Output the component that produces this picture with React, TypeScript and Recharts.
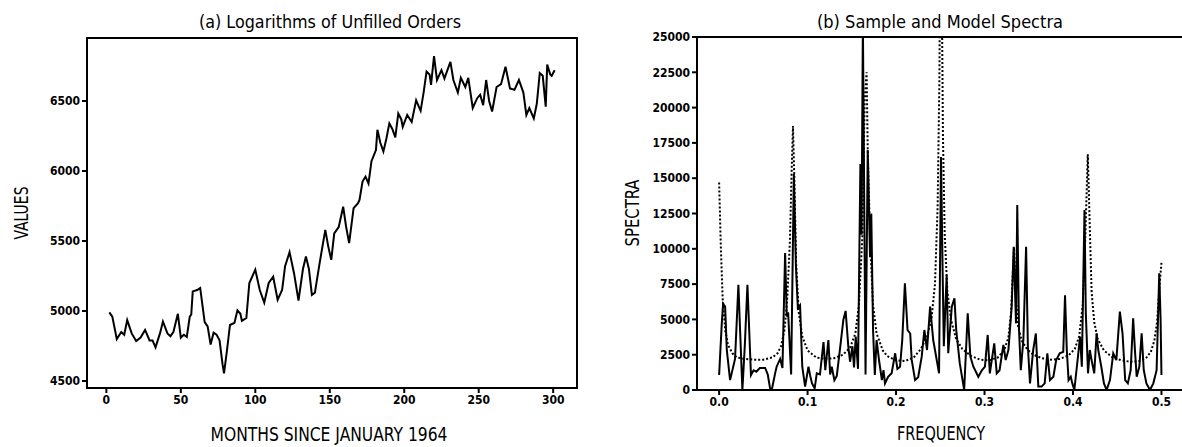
import { Line, LineChart, XAxis, YAxis } from "recharts";

// (a) log unfilled orders
const months = [
  2, 4, 7, 10, 12, 14, 17, 20, 23, 26, 29, 31, 33, 36, 38, 41, 43, 45, 48, 50,
  52, 54, 56, 57, 58, 61, 63, 66, 68, 70, 72, 74, 76, 78, 79, 81, 83, 86, 88, 90,
  91, 94, 96, 100, 103, 106, 109, 112, 115, 118, 120, 123, 126, 129, 132, 134,
  136, 138, 140, 143, 147, 149, 151, 153, 156, 159, 161, 163, 166, 169, 170, 172,
  174, 176, 178, 181, 182, 184, 186, 188, 190, 192, 194, 196, 198, 199, 202, 205,
  208, 211, 213, 215, 217, 218, 220, 222, 225, 227, 229, 231, 233, 236, 238, 241,
  243, 246, 249, 251, 253, 255, 257, 259, 262, 265, 268, 271, 274, 277, 280, 282,
  284, 287, 289, 291, 293, 295, 296, 298, 299, 301,
];
const unfilled = [
  4990, 4960, 4800, 4850, 4830, 4935, 4840, 4785, 4810, 4865, 4790, 4790, 4740,
  4840, 4925, 4840, 4820, 4850, 4980, 4810, 4830, 4815, 4960, 4975, 5140, 5150,
  5165, 4920, 4890, 4760, 4845, 4830, 4790, 4620, 4555, 4720, 4900, 4915, 5005,
  4980, 4930, 4950, 5200, 5295, 5150, 5060, 5200, 5245, 5080, 5150, 5320, 5420,
  5270, 5075, 5300, 5390, 5300, 5115, 5130, 5330, 5580, 5460, 5365, 5555, 5600,
  5745, 5600, 5485, 5735, 5770, 5795, 5925, 5960, 5910, 6070, 6150, 6295, 6200,
  6140, 6230, 6340, 6300, 6240, 6410, 6370, 6315, 6400, 6350, 6505, 6430, 6560,
  6710, 6690, 6615, 6820, 6650, 6720, 6660, 6720, 6780, 6650, 6560, 6665, 6600,
  6665, 6450, 6520, 6545, 6470, 6650, 6500, 6425, 6600, 6620, 6745, 6590, 6580,
  6650, 6560, 6400, 6450, 6375, 6480, 6700, 6680, 6460, 6760, 6690, 6680, 6720,
];
const monthTicks = [0, 50, 100, 150, 200, 250, 300];
const valueTicks = [4500, 5000, 5500, 6000, 6500];

// (b) sample spectrum
const sampleFreq = [
  0, 0.003, 0.0045, 0.0068, 0.0087, 0.0124, 0.018, 0.0218, 0.0237, 0.0263, 0.029,
  0.032, 0.034, 0.036, 0.039, 0.042, 0.046, 0.052, 0.055, 0.0576, 0.0595, 0.0633,
  0.065, 0.069, 0.0716, 0.0746, 0.0765, 0.078, 0.0814, 0.0845, 0.0868, 0.089,
  0.0915, 0.094, 0.0972, 0.101, 0.103, 0.105, 0.108, 0.1104, 0.114, 0.118, 0.12,
  0.1235, 0.1255, 0.1273, 0.1303, 0.133, 0.137, 0.1405, 0.143, 0.146, 0.148,
  0.1507, 0.1525, 0.1544, 0.157, 0.1597, 0.161, 0.1625, 0.1655, 0.168, 0.1706,
  0.172, 0.174, 0.176, 0.178, 0.181, 0.184, 0.1858, 0.1875, 0.191, 0.195, 0.199,
  0.2015, 0.2045, 0.207, 0.21, 0.213, 0.216, 0.2177, 0.2215, 0.225, 0.229, 0.232,
  0.235, 0.2385, 0.242, 0.244, 0.2486, 0.2508, 0.2525, 0.254, 0.2572, 0.259, 0.263,
  0.266, 0.268, 0.272, 0.277, 0.281, 0.284, 0.2874, 0.293, 0.297, 0.3005, 0.3036,
  0.306, 0.311, 0.3138, 0.317, 0.3213, 0.3239, 0.327, 0.3307, 0.333, 0.3356, 0.337,
  0.339, 0.341, 0.3439, 0.347, 0.349, 0.3514, 0.355, 0.358, 0.3608, 0.3645, 0.368,
  0.371, 0.374, 0.3778, 0.381, 0.385, 0.389, 0.391, 0.393, 0.395, 0.3975, 0.3992,
  0.4015, 0.405, 0.408, 0.41, 0.413, 0.4145, 0.417, 0.419, 0.421, 0.424, 0.4267,
  0.4286, 0.432, 0.435, 0.438, 0.4418, 0.4455, 0.449, 0.453, 0.456, 0.459, 0.462,
  0.4652, 0.468, 0.47, 0.472, 0.475, 0.4776, 0.48, 0.483, 0.487, 0.4908, 0.4945,
  0.4975, 0.499, 0.5,
];
const sampleSpec = [
  1060, 4700, 6100, 5900, 2830, 700, 2200, 7450, 4250, 0, 3100, 7450, 4250, 1060,
  1400, 1300, 1560, 1560, 1100, 120, 0, 1180, 1650, 2200, 1560, 9700, 5200, 5500,
  1100, 15300, 8800, 5800, 6000, 1650, 240, 1650, 1000, 470, 120, 1180, 1100, 3400,
  1400, 3540, 1100, 1650, 700, 1000, 3100, 5000, 5600, 3100, 2000, 3100, 1600, 3780,
  1500, 16000, 11000, 26000, 1100, 17000, 9400, 12500, 4250, 1060, 3540, 2000, 700,
  1400, 470, 940, 1180, 2600, 1500, 1650, 3540, 7550, 4250, 4000, 2130, 700, 900,
  2360, 4250, 2830, 5900, 3540, 2830, 1180, 16500, 9000, 3100, 8150, 2600, 5900,
  6500, 4250, 1900, 0, 5430, 2360, 1650, 940, 1400, 1650, 3900, 1180, 3300, 1180,
  1400, 3200, 2120, 2830, 5900, 10150, 4720, 13100, 4250, 1400, 3540, 10150, 3100,
  470, 2830, 4000, 240, 240, 470, 2600, 700, 940, 2120, 2600, 2700, 6700, 2830, 700,
  940, 470, 0, 2000, 3780, 1650, 12740, 5430, 1180, 2830, 2120, 1180, 4010, 2830,
  1650, 470, 0, 700, 2600, 2120, 5550, 4000, 700, 470, 1400, 5070, 2830, 940, 1650,
  4010, 1400, 470, 0, 470, 1400, 8260, 5000, 1060,
];

// (b) model spectrum
const modelFreq = [
  0, 0.002, 0.004, 0.007, 0.01, 0.015, 0.02, 0.03, 0.04, 0.05, 0.06, 0.066, 0.07,
  0.074, 0.077, 0.08, 0.082, 0.0835, 0.085, 0.087, 0.09, 0.094, 0.1, 0.11, 0.12,
  0.13, 0.14, 0.148, 0.154, 0.158, 0.162, 0.1645, 0.1667, 0.168, 0.171, 0.174,
  0.178, 0.185, 0.19, 0.2, 0.21, 0.22, 0.228, 0.235, 0.24, 0.244, 0.247, 0.249,
  0.25, 0.2515, 0.253, 0.255, 0.258, 0.262, 0.268, 0.275, 0.285, 0.295, 0.305,
  0.315, 0.322, 0.327, 0.33, 0.3333, 0.3355, 0.338, 0.342, 0.348, 0.355, 0.365,
  0.375, 0.385, 0.395, 0.402, 0.407, 0.411, 0.414, 0.4167, 0.419, 0.421, 0.424,
  0.428, 0.435, 0.445, 0.455, 0.465, 0.475, 0.483, 0.488, 0.492, 0.495, 0.498, 0.5,
];
const modelSpec = [
  14700, 10000, 6500, 4200, 3200, 2600, 2300, 2200, 2150, 2150, 2300, 2600, 3100,
  4300, 6500, 10500, 15500, 18700, 15000, 9000, 5500, 3800, 2800, 2300, 2200, 2250,
  2500, 3000, 4000, 6000, 11000, 20500, 22500, 17000, 10000, 6000, 4000, 2800, 2400,
  2100, 2050, 2300, 2900, 3800, 5000, 7500, 13000, 22000, 32000, 30000, 18000, 11000,
  7000, 5000, 3600, 2900, 2400, 2150, 2100, 2300, 2800, 3700, 5500, 10100, 6500,
  4500, 3500, 2900, 2500, 2250, 2150, 2200, 2450, 2900, 3800, 6000, 11000, 16700,
  11500, 7000, 4800, 3600, 2800, 2300, 2100, 2000, 2050, 2300, 2700, 3500, 4800,
  7500, 9000,
];
const freqTicks = [0, 0.1, 0.2, 0.3, 0.4, 0.5];
const spectraTicks = [
  0, 2500, 5000, 7500, 10000, 12500, 15000, 17500, 20000, 22500, 25000,
];

const ordersData = months.map((m, i) => ({ m, v: unfilled[i] }));
const sampleData = sampleFreq.map((f, i) => ({ f, s: sampleSpec[i] }));
const modelData = modelFreq.map((f, i) => ({ f, s: modelSpec[i] }));

const FONT = "'DejaVu Sans Condensed', 'DejaVu Sans', sans-serif";
const tickStyle = { fill: "#000", fontSize: 12, fontWeight: 700, fontFamily: FONT };
const textStyle = { fontFamily: FONT, fill: "#000" };

export default function App() {
  return (
    <div style={{ position: "relative", width: 1182, height: 447, overflow: "hidden", background: "#fff" }}>
      <style>{"body{margin:0;overflow:hidden}"}</style>

      <div style={{ position: "absolute", left: 0, top: 0 }}>
        <LineChart width={600} height={447} data={ordersData} margin={{ top: 38, right: 23, left: 27, bottom: 29 }}>
          <XAxis
            dataKey="m"
            type="number"
            domain={[-13, 316]}
            ticks={monthTicks}
            height={30}
            stroke="#000"
            strokeWidth={2}
            tickSize={5}
            tick={tickStyle}
          />
          <YAxis
            type="number"
            domain={[4450, 6950]}
            ticks={valueTicks}
            width={60}
            stroke="#000"
            strokeWidth={2}
            tickSize={5}
            tickMargin={2}
            tick={tickStyle}
          />
          <Line type="linear" dataKey="v" stroke="#000" strokeWidth={2} dot={false} isAnimationActive={false} />
        </LineChart>
      </div>

      <div style={{ position: "absolute", left: 600, top: 0 }}>
        <LineChart width={600} height={447} margin={{ top: 37, right: 12, left: 37, bottom: 27 }}>
          <XAxis
            dataKey="f"
            type="number"
            domain={[-0.025, 0.53]}
            ticks={freqTicks}
            tickFormatter={(t: number) => t.toFixed(1)}
            height={30}
            stroke="#000"
            strokeWidth={2}
            tickSize={5}
            tick={tickStyle}
            allowDataOverflow
          />
          <YAxis
            type="number"
            domain={[0, 25000]}
            ticks={spectraTicks}
            width={60}
            stroke="#000"
            strokeWidth={2}
            tickSize={5}
            tickMargin={2}
            tick={tickStyle}
            allowDataOverflow
          />
          <Line data={modelData} type="linear" dataKey="s" stroke="#000" strokeWidth={2} strokeDasharray="2 2" dot={false} isAnimationActive={false} />
          <Line data={sampleData} type="linear" dataKey="s" stroke="#000" strokeWidth={2} dot={false} isAnimationActive={false} />
        </LineChart>
      </div>

      <svg width={1182} height={447} style={{ position: "absolute", left: 0, top: 0, pointerEvents: "none" }}>
        <rect x={87} y={38} width={490} height={350} fill="none" stroke="#000" strokeWidth={2} />
        <path d="M1190 37 H697 V390 H1190" fill="none" stroke="#000" strokeWidth={2} />
        <text x={330} y={28} textAnchor="middle" fontSize={17} textLength={262} lengthAdjust="spacingAndGlyphs" style={textStyle}>
          (a) Logarithms of Unfilled Orders
        </text>
        <text x={940} y={28} textAnchor="middle" fontSize={17} textLength={246} lengthAdjust="spacingAndGlyphs" style={textStyle}>
          (b) Sample and Model Spectra
        </text>
        <text x={329} y={441} textAnchor="middle" fontSize={19} textLength={237} lengthAdjust="spacingAndGlyphs" style={textStyle}>
          MONTHS SINCE JANUARY 1964
        </text>
        <text x={941} y={440} textAnchor="middle" fontSize={19} textLength={88} lengthAdjust="spacingAndGlyphs" style={textStyle}>
          FREQUENCY
        </text>
        <text x={28} y={213} textAnchor="middle" fontSize={20} textLength={53} lengthAdjust="spacingAndGlyphs" transform="rotate(-90 28 213)" style={textStyle}>
          VALUES
        </text>
        <text x={639} y={213} textAnchor="middle" fontSize={20} textLength={67} lengthAdjust="spacingAndGlyphs" transform="rotate(-90 639 213)" style={textStyle}>
          SPECTRA
        </text>
      </svg>
    </div>
  );
}
